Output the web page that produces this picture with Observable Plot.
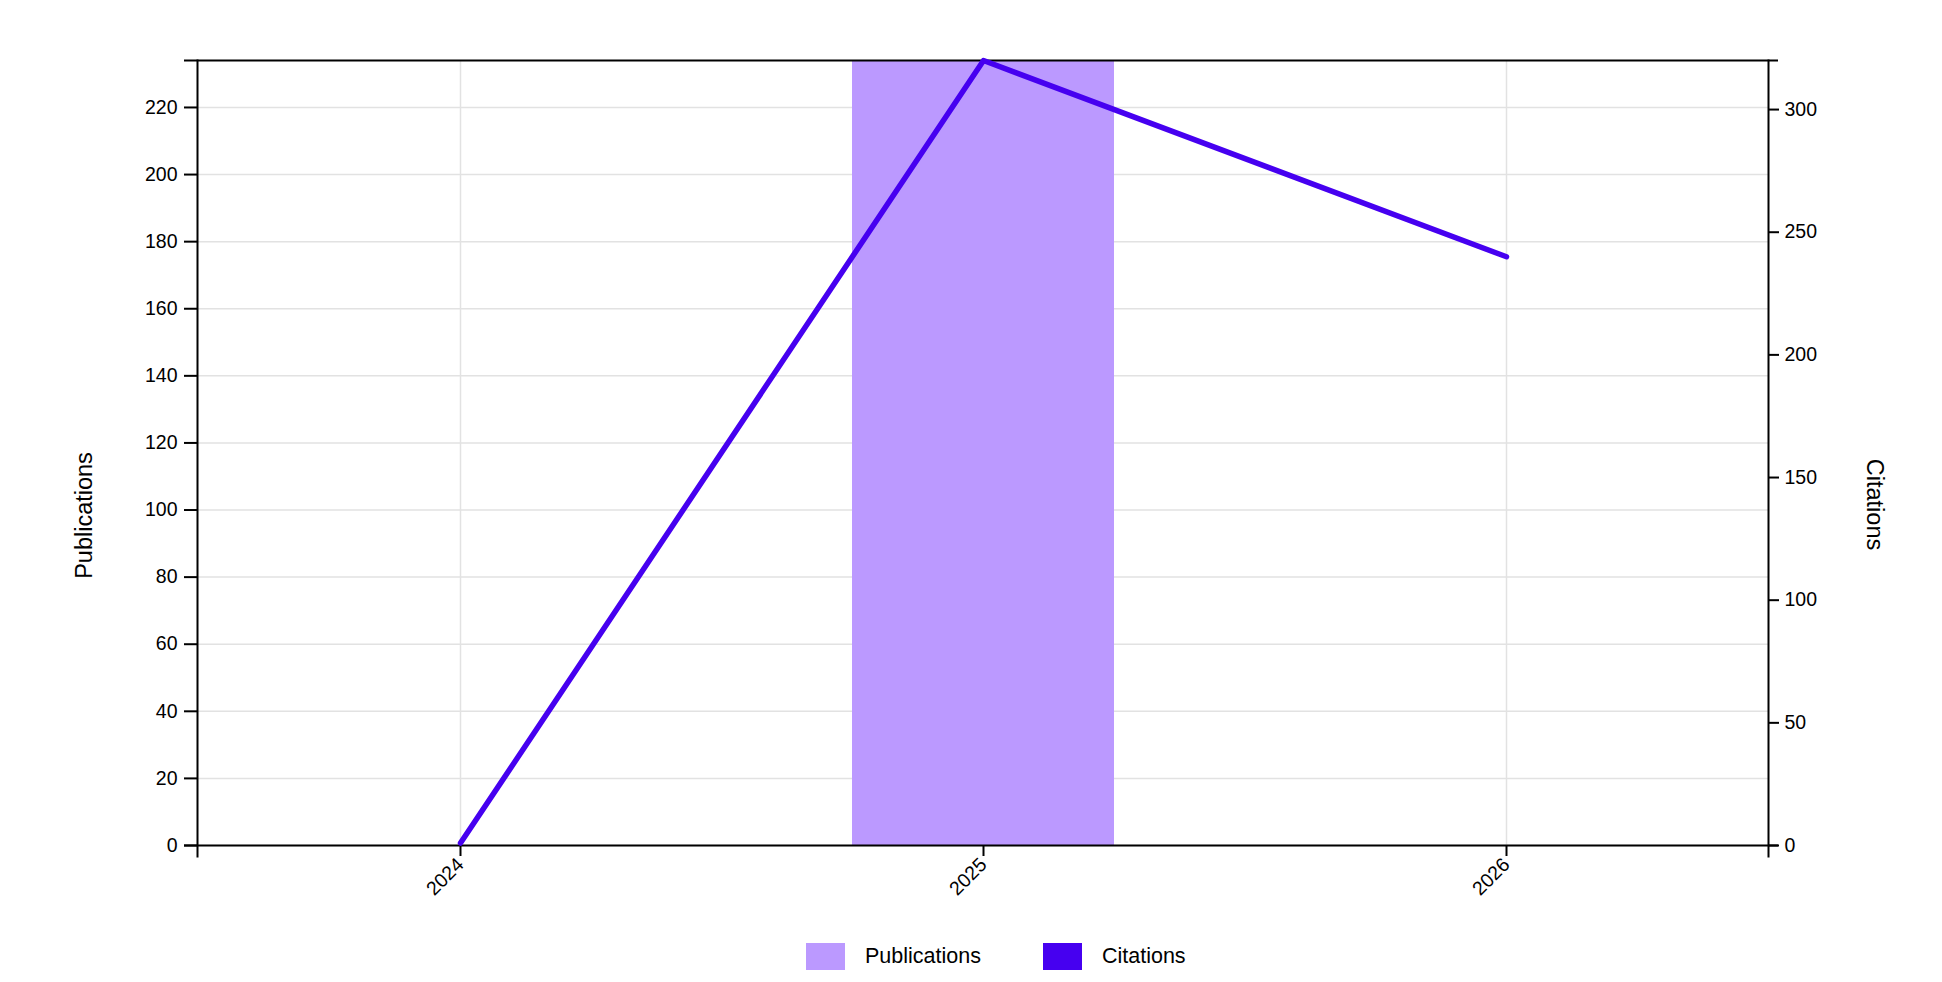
<!DOCTYPE html>
<html>
<head>
<meta charset="utf-8">
<script src="https://cdn.jsdelivr.net/npm/d3@7"></script>
<script src="https://cdn.jsdelivr.net/npm/@observablehq/plot@0.6"></script>
<style>
  html, body { margin: 0; padding: 0; background: #fff; }
  body { width: 1942px; height: 982px; position: relative; font-family: "Liberation Sans", Arial, Helvetica, sans-serif; color: #000; }
  #legend { position: absolute; left: 806px; top: 943px; display: flex; align-items: center; font-size: 21.5px; }
  .sw { width: 39px; height: 27px; display: inline-block; }
  .lab { margin-left: 20px; margin-right: 62px; }
</style>
</head>
<body>
<div id="chart"></div>
<div id="legend"></div>
<script>
const years = ["2024", "2025", "2026"];
const publications = [0, 234, 0];
const citations = [1, 320, 240];
const pubTicks = [0, 20, 40, 60, 80, 100, 120, 140, 160, 180, 200, 220];
const citeTicks = [0, 50, 100, 150, 200, 250, 300];
const seriesNames = ["Publications", "Citations"];
const seriesColors = ["#bb99ff", "#4600f0"];

const pubMax = d3.max(publications);
const citeMax = d3.max(citations);
const k = pubMax / citeMax;

const data = years.map((year, i) => ({year, publications: publications[i], citations: citations[i]}));

const W = 1942, H = 900, mL = 197, mR = 174, mT = 60, mB = 55;

const chart = Plot.plot({
  width: W,
  height: H,
  marginLeft: mL,
  marginRight: mR,
  marginTop: mT,
  marginBottom: mB,
  style: {fontFamily: "'Liberation Sans', Arial, Helvetica, sans-serif", color: "#000", background: "#fff"},
  x: {type: "band", domain: years, paddingInner: 0.5, paddingOuter: 0.25},
  y: {domain: [0, pubMax]},
  marks: [
    Plot.gridY(pubTicks, {stroke: "#e2e2e2", strokeOpacity: 1, strokeWidth: 1.5}),
    Plot.gridX(years, {stroke: "#e2e2e2", strokeOpacity: 1, strokeWidth: 1.5}),
    Plot.barY(data, {x: "year", y: "publications", fill: seriesColors[0]}),
    Plot.ruleY([0, pubMax], {stroke: "#000", strokeWidth: 2, insetLeft: -13, insetRight: -10}),
    Plot.frame({anchor: "left", stroke: "#000", strokeWidth: 2, insetBottom: -11}),
    Plot.frame({anchor: "right", stroke: "#000", strokeWidth: 2, insetBottom: -11}),
    Plot.axisY(pubTicks, {anchor: "left", tickSize: 13, tickPadding: 7, fontSize: 19.5, strokeWidth: 2, label: null}),
    Plot.axisY(citeTicks.map(v => v * k), {anchor: "right", tickSize: 10, tickPadding: 6, fontSize: 19.5, strokeWidth: 2, label: null, tickFormat: d => String(Math.round(d / k))}),
    Plot.axisX(years, {anchor: "bottom", tickSize: 11, tickPadding: 5, tickRotate: -45, fontSize: 19.5, strokeWidth: 2, label: null}),
    Plot.lineY(data, {x: "year", y: d => d.citations * k, stroke: seriesColors[1], strokeWidth: 5.5})
  ]
});
document.getElementById("chart").appendChild(chart);

// axis titles
const svg = d3.select(chart);
const midY = (mT + (H - mB)) / 2;
svg.append("text")
  .attr("transform", `translate(${mL - 111},${midY + 63}) rotate(-90)`)
  .attr("text-anchor", "middle").attr("dominant-baseline", "middle")
  .attr("font-size", 23.5).attr("fill", "#000")
  .text(seriesNames[0]);
svg.append("text")
  .attr("transform", `translate(${W - mR + 105},${midY + 52}) rotate(90)`)
  .attr("text-anchor", "middle").attr("dominant-baseline", "middle")
  .attr("font-size", 23.5).attr("fill", "#000")
  .text(seriesNames[1]);

const legend = document.getElementById("legend");
seriesNames.forEach((name, i) => {
  const sw = document.createElement("span");
  sw.className = "sw";
  sw.style.background = seriesColors[i];
  const lab = document.createElement("span");
  lab.className = "lab";
  lab.textContent = name;
  legend.appendChild(sw);
  legend.appendChild(lab);
});
</script>
</body>
</html>
